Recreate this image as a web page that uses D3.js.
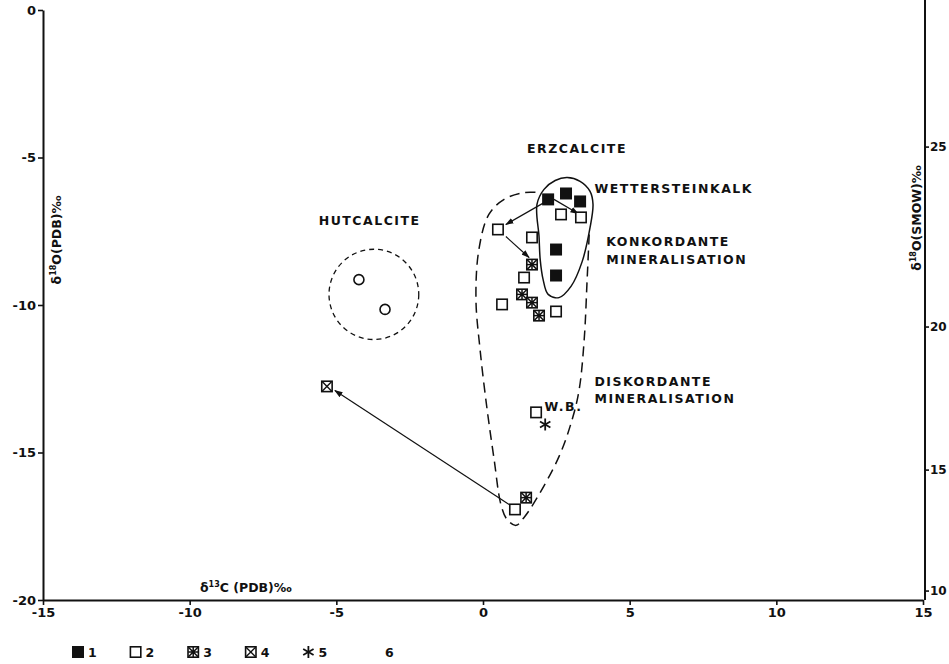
<!DOCTYPE html>
<html>
<head>
<meta charset="utf-8">
<script src="https://cdn.jsdelivr.net/npm/d3@7"></script>
<style>
body { margin: 0; background: #fff; }
text { font-family: "DejaVu Sans", sans-serif; font-weight: bold; fill: #111; }
.axis path, .axis line { stroke: #111; }
.axis path { stroke-width: 2; }
.axis line { stroke-width: 1.6; }
</style>
</head>
<body>
<div class="container"></div>
<script>
// samples, [d13C, d18O] in permil
var erz1 = [[2.22,-6.42],[2.83,-6.22],[3.31,-6.49],[2.49,-8.12],[2.49,-9.0]];
var erz2 = [[2.66,-6.93],[3.34,-7.03],[0.51,-7.44],[1.67,-7.71],[1.40,-9.07],[0.65,-9.98],[2.49,-10.22],[1.81,-13.64],[1.09,-16.93]];
var erz3 = [[1.67,-8.63],[1.33,-9.64],[1.67,-9.92],[1.91,-10.36],[1.47,-16.53]];
var erz4 = [[-5.32,-12.76]];
var erz5 = [[2.12,-14.05]];
var hut = [[-4.23,-9.14],[-3.34,-10.15]];

// arrows x1,y1 -> x2,y2
var arrows = [[2.08,-6.53,0.78,-7.27],[0.78,-7.68,1.57,-8.39],[2.42,-6.42,3.24,-6.90],[0.89,-16.76,-5.05,-12.90]];

// field outlines
var konkordant = [[1.91,-7.68],[1.84,-6.59],[2.08,-6.08],[2.46,-5.78],[2.87,-5.68],[3.31,-5.81],[3.65,-6.15],[3.75,-6.59],[3.65,-7.37],[3.38,-8.53],[3.00,-9.37],[2.59,-9.75],[2.22,-9.64],[2.05,-9.14],[1.95,-8.46]];
var diskordant = [[3.62,-7.61],[3.55,-9.14],[3.45,-11.17],[3.28,-12.86],[3.04,-13.88],[2.59,-15.14],[1.81,-16.59],[1.40,-17.20],[1.13,-17.47],[0.82,-17.27],[0.61,-16.76],[0.38,-15.24],[0.14,-13.54],[-0.10,-11.51],[-0.24,-9.81],[-0.14,-8.12],[0.20,-6.93],[0.72,-6.42],[1.40,-6.19],[1.91,-6.19]];
var hutCircle = [-3.72, -9.64, 1.53];

var xTicks = [-15,-10,-5,0,5,10,15];
var yTicks = [0,-5,-10,-15,-20];
var smowTicks = [25,20,15,10];
var smowAt = [-4.63,-10.73,-15.58,-19.68]; // where the SMOW ticks sit on the PDB scale

var labels = [
	{t:'ERZCALCITE', x:1.5, y:-4.85},
	{t:'WETTERSTEINKALK', x:3.8, y:-6.2},
	{t:'HUTCALCITE', x:-5.6, y:-7.3},
	{t:'KONKORDANTE', x:4.2, y:-8.0},
	{t:'MINERALISATION', x:4.2, y:-8.62},
	{t:'DISKORDANTE', x:3.8, y:-12.73},
	{t:'MINERALISATION', x:3.8, y:-13.33},
	{t:'W.B.', x:2.1, y:-13.6}
];
var legendKeys = ['1','2','3','4','5','6'];

const WIDTH = 949;
const HEIGHT = 664;
var x = d3.scaleLinear().domain([-15,15]).range([43,923]);
var y = d3.scaleLinear().domain([-20,0]).range([600,10]);
var ySmow = d3.scaleLinear().domain(smowTicks).range(smowAt.map(function(v){return y(v)}));
var plain = function(d){ return String(d); };

var svg = d3.select('.container').append('svg')
	.attr('width', WIDTH)
	.attr('height', HEIGHT);

svg.append('defs').append('marker')
	.attr('id', 'head')
	.attr('viewBox', '0 0 10 10')
	.attr('refX', 9).attr('refY', 5)
	.attr('markerWidth', 7).attr('markerHeight', 7)
	.attr('orient', 'auto')
	.append('path').attr('d', 'M0,1.5L10,5L0,8.5Z').attr('fill', '#111');

// axes
var xAxis = svg.append('g').classed('axis', true)
	.attr('transform', 'translate(0,' + y(-20) + ')')
	.call(d3.axisBottom(x).tickValues(xTicks).tickFormat(plain).tickSize(5).tickPadding(3).tickSizeOuter(0));
var yAxis = svg.append('g').classed('axis', true)
	.attr('transform', 'translate(' + x(-15) + ',0)')
	.call(d3.axisLeft(y).tickValues(yTicks).tickFormat(plain).tickSize(5).tickPadding(2).tickSizeOuter(0));
var rAxis = svg.append('g').classed('axis', true)
	.attr('transform', 'translate(' + (x(15) + 2) + ',0)')
	.call(d3.axisRight(ySmow).tickValues(smowTicks).tickFormat(plain).tickSize(4).tickPadding(1).tickSizeOuter(0));
rAxis.select('.domain').attr('d', 'M0,0V' + y(-20));
svg.selectAll('.axis text').attr('font-size', 13).attr('font-family', '"DejaVu Sans", sans-serif').attr('font-weight', 'bold');
rAxis.selectAll('text').attr('font-size', 12);

// axis titles
var t1 = svg.append('text').attr('transform', 'translate(61,240) rotate(-90)').attr('text-anchor', 'middle').attr('font-size', 12.5);
t1.append('tspan').text('δ');
t1.append('tspan').attr('font-size', 8).attr('dy', -5).text('18');
t1.append('tspan').attr('dy', 5).text('O(PDB)‰');
var t2 = svg.append('text').attr('transform', 'translate(921,218) rotate(-90)').attr('text-anchor', 'middle').attr('font-size', 12.5);
t2.append('tspan').text('δ');
t2.append('tspan').attr('font-size', 8).attr('dy', -5).text('18');
t2.append('tspan').attr('dy', 5).text('O(SMOW)‰');
var t3 = svg.append('text').attr('x', 200).attr('y', 592).attr('font-size', 12.5);
t3.append('tspan').text('δ');
t3.append('tspan').attr('font-size', 8).attr('dy', -5).text('13');
t3.append('tspan').attr('dy', 5).text('C (PDB)‰');

// field outlines
var line = d3.line().x(function(d){return x(d[0])}).y(function(d){return y(d[1])});
svg.append('path')
	.attr('d', line.curve(d3.curveCatmullRomClosed)(konkordant))
	.attr('fill', 'none').attr('stroke', '#111').attr('stroke-width', 1.5);
svg.append('path')
	.attr('d', line.curve(d3.curveCatmullRom)(diskordant))
	.attr('fill', 'none').attr('stroke', '#111').attr('stroke-width', 1.5)
	.attr('stroke-dasharray', '10,6');
svg.append('ellipse')
	.attr('cx', x(hutCircle[0])).attr('cy', y(hutCircle[1]))
	.attr('rx', x(hutCircle[0] + hutCircle[2]) - x(hutCircle[0]))
	.attr('ry', y(hutCircle[1] - hutCircle[2]) - y(hutCircle[1]))
	.attr('fill', 'none').attr('stroke', '#111').attr('stroke-width', 1.3)
	.attr('stroke-dasharray', '5,4');

// arrows
svg.append('g').selectAll('line').data(arrows).enter().append('line')
	.attr('x1', function(d){return x(d[0])}).attr('y1', function(d){return y(d[1])})
	.attr('x2', function(d){return x(d[2])}).attr('y2', function(d){return y(d[3])})
	.attr('stroke', '#111').attr('stroke-width', 1.2)
	.attr('marker-end', 'url(#head)');

// symbols
var S = 6;
var drawSymbol = function(g, type) {
	if (type == 1) {
		g.append('rect').attr('x', -S).attr('y', -S).attr('width', 2*S).attr('height', 2*S).attr('fill', '#111');
	} else if (type == 6) {
		g.append('circle').attr('r', 5).attr('fill', '#fff').attr('stroke', '#111').attr('stroke-width', 1.6);
	} else if (type == 5) {
		[0, 60, 120].forEach(function(a) {
			g.append('line').attr('x1', 0).attr('y1', -S).attr('x2', 0).attr('y2', S)
				.attr('transform', 'rotate(' + a + ')').attr('stroke', '#111').attr('stroke-width', 1.8);
		});
	} else {
		g.append('rect').attr('x', -S + 0.8).attr('y', -S + 0.8).attr('width', 2*S - 1.6).attr('height', 2*S - 1.6)
			.attr('fill', '#fff').attr('stroke', '#111').attr('stroke-width', 1.6);
		var angles = type == 3 ? [0, 45, 90, 135] : (type == 4 ? [45, 135] : []);
		angles.forEach(function(a) {
			var r = a % 90 ? S * 1.3 : S;
			g.append('line').attr('x1', 0).attr('y1', -r + 1).attr('x2', 0).attr('y2', r - 1)
				.attr('transform', 'rotate(' + a + ')').attr('stroke', '#111').attr('stroke-width', type == 3 ? 1.5 : 1.4);
		});
		if (type == 3) g.append('circle').attr('r', 1.8).attr('fill', '#111');
	}
}

var groups = [[erz1,1],[erz2,2],[erz3,3],[erz4,4],[erz5,5],[hut,6]];
groups.forEach(function(grp) {
	svg.append('g').selectAll('g').data(grp[0]).enter().append('g')
		.attr('transform', function(d){return 'translate(' + x(d[0]) + ',' + y(d[1]) + ')'})
		.each(function(){ drawSymbol(d3.select(this), grp[1]); });
});

// labels
svg.append('g').selectAll('text').data(labels).enter().append('text')
	.attr('x', function(d){return x(d.x)}).attr('y', function(d){return y(d.y)})
	.attr('font-size', 12.5).attr('letter-spacing', 1.5)
	.text(function(d){return d.t});

// legend
var legendX = d3.scalePoint().domain(legendKeys).range([78, 366]);
var lg = svg.append('g').selectAll('g').data(legendKeys).enter().append('g')
	.attr('transform', function(d){return 'translate(' + legendX(d) + ',652)'});
lg.each(function(d) {
	if (d != '6') drawSymbol(d3.select(this), +d);
});
lg.append('text').attr('x', function(d){return d == '6' ? 19 : 10}).attr('y', 5).attr('font-size', 12.5).text(function(d){return d});
</script>
</body>
</html>
